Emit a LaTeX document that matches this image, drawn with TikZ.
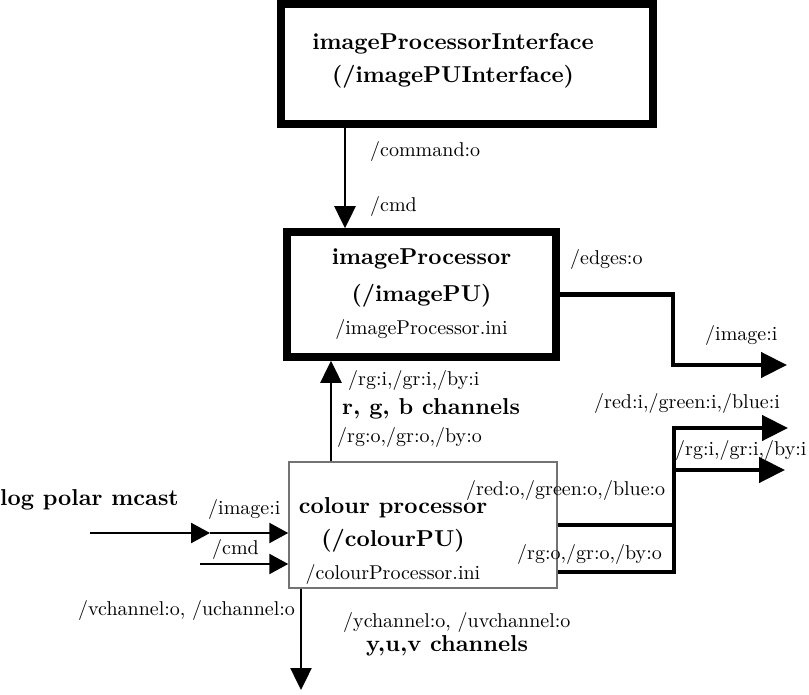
\documentclass[tikz,border=0pt]{standalone}
\usepackage{fontspec}
\setmainfont{lmroman10-regular.otf}[BoldFont=lmroman10-bold.otf]
\usetikzlibrary{positioning, arrows.meta, calc}

\newcommand{\bigtxt}{\normalfont\fontsize{23}{33}\selectfont\bfseries}
\newcommand{\smalltxt}{\normalfont\fontsize{20}{30}\selectfont}

\begin{document}
\begin{tikzpicture}[x=1pt, y=-1pt,
  thickbox/.style={draw, line width=7.5pt, inner sep=0pt},
  thinbox/.style={draw=black!55, line width=1.5pt, inner sep=0pt},
  lbl/.style={anchor=west, inner sep=0pt, font=\smalltxt},
  biglbl/.style={anchor=west, inner sep=0pt, font=\bigtxt},
  arr/.style={-{Triangle[length=22pt, width=21pt]}, line width=2.5pt},
  wire/.style={-{Triangle[length=26pt, width=25pt]}, line width=4.5pt}]
  \useasboundingbox (0,0) rectangle (809,695);

  % boxes
  \node[thickbox, minimum width=372pt, minimum height=120pt] (iface) at (467,64) {};
  \node[font=\bigtxt, align=center] (ifacetext) at (453,61) {imageProcessorInterface\\(/imagePUInterface)};
  \node[thickbox, minimum width=269pt, minimum height=125pt, font=\bigtxt, align=center] (imagepu) at (421.5,294.5)
    {imageProcessor\\[4pt](/imagePU)\\{\smalltxt /imageProcessor.ini}};
  \node[thinbox, minimum width=268pt, minimum height=126pt] (colourpu) at (423,525) {};
  \node[font=\bigtxt, align=center] (colourtext) at (393,541) {colour processor\\(/colourPU)\\{\smalltxt /colourProcessor.ini}};

  % free ends
  \coordinate (edgesend) at (787,365);
  \coordinate (redend) at (788,428);
  \coordinate (rgend) at (785,470);
  \coordinate (lpstart) at (90,533);
  \coordinate (lpmid) at (210,533);
  \coordinate (cmdstart) at (200,564);
  \coordinate (yuvend) at (301,690);

  % connectors
  \draw[arr] ([xshift=-122pt]iface.south) -- ([xshift=-76.5pt]imagepu.north);
  \draw[wire] (imagepu.east) -- ++(113,0) |- (edgesend);
  \draw[arr] ([xshift=-92pt]colourpu.north) -- ([xshift=-90.5pt]imagepu.south);
  \draw[wire] (colourpu.east) -- ++(116,0) |- (redend);
  \draw[wire] ([yshift=-47pt]colourpu.east) -- ++(116,0) |- (rgend);
  \draw[arr, -{Triangle[length=19pt, width=20pt]}] (lpstart) -- (lpmid);
  \draw[arr, -{Triangle[length=19pt, width=20pt]}] (lpmid) -- ([yshift=-8pt]colourpu.west);
  \draw[arr, -{Triangle[length=19pt, width=20pt]}] (cmdstart) -- ([yshift=-39pt]colourpu.west);
  \draw[arr] ([xshift=-122pt]colourpu.south) -- (yuvend);

  % labels
  \node[lbl] (commandlbl) at (370,152) {/command:o};
  \node[lbl] (cmdlbl) at (370,207) {/cmd};
  \node[lbl] (edgeslbl) at (570,260) {/edges:o};
  \node[lbl] (imageinlbl) at (705,336) {/image:i};
  \node[lbl] (rgbinlbl) at (348,380) {/rg:i,/gr:i,/by:i};
  \node[biglbl] (rgblbl) at (342,409) {r, g, b channels};
  \node[lbl] (rgboutlbl) at (337,437) {/rg:o,/gr:o,/by:o};
  \node[lbl] (redinlbl) at (594,403) {/red:i,/green:i,/blue:i};
  \node[lbl] (rginlbl) at (675,450) {/rg:i,/gr:i,/by:i};
  \node[lbl] (redoutlbl) at (466,490) {/red:o,/green:o,/blue:o};
  \node[lbl] (rgoutlbl) at (517,554) {/rg:o,/gr:o,/by:o};
  \node[biglbl] (lplbl) at (0,500) {log polar mcast};
  \node[lbl] (lpimagelbl) at (208,509) {/image:i};
  \node[lbl] (cmdinlbl) at (212,549) {/cmd};
  \node[lbl] (uvlbl) at (78,610) {/vchannel:o, /uchannel:o};
  \node[lbl] (yuvlbl) at (343,622) {/ychannel:o, /uvchannel:o};
  \node[biglbl] (yuvbiglbl) at (366,646) {y,u,v channels};
\end{tikzpicture}
\end{document}
